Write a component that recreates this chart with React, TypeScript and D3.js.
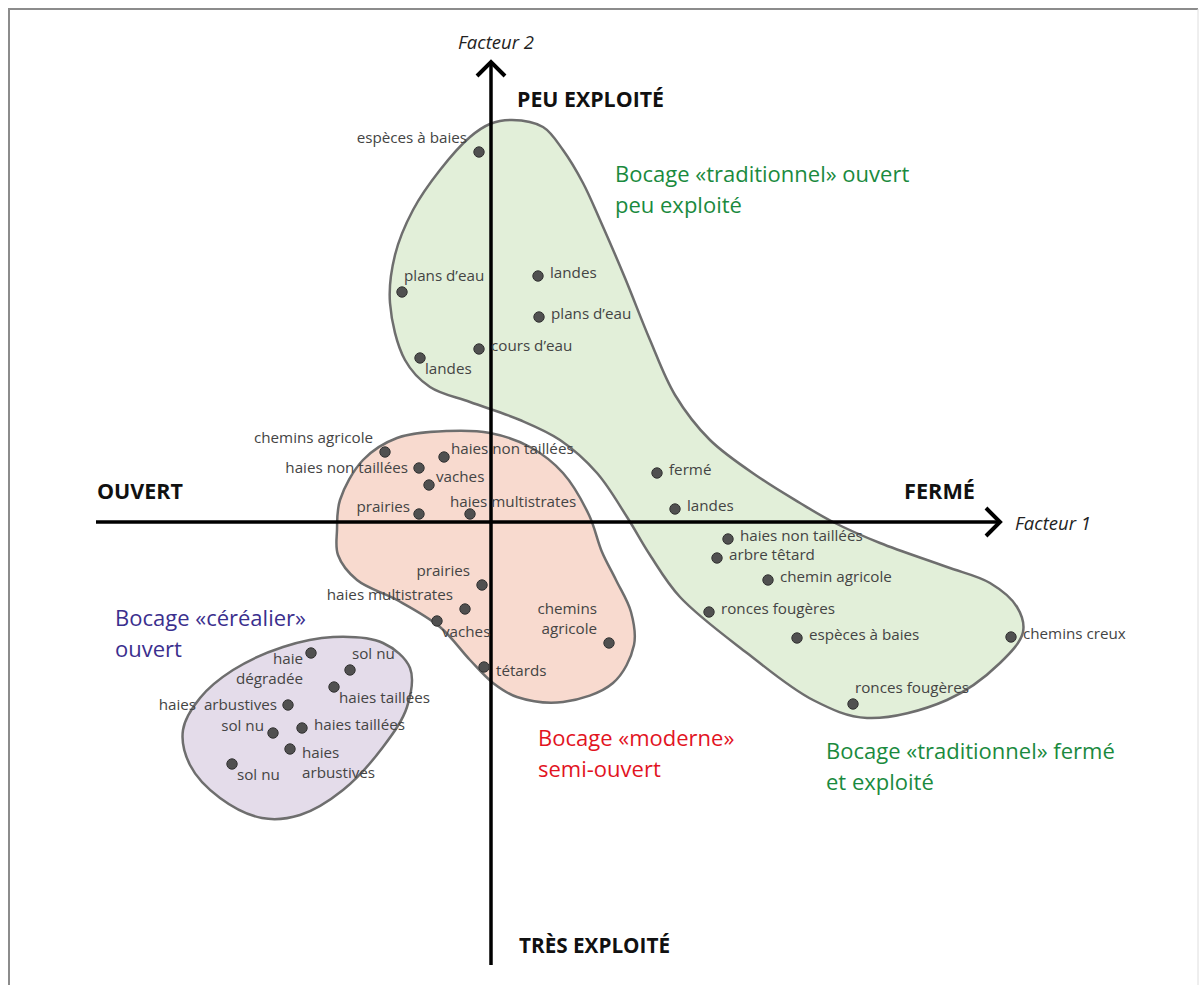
import React from "react";
import * as d3 from "d3";

const width = 1199;
const height = 985;

// factor scores (Facteur 1, Facteur 2) and label placement code
const greenPoints: [string, number, number, string][] = [
  ["espèces à baies", -0.12, 3.7, "tl"],
  ["plans d’eau", -0.89, 2.3, "tr"],
  ["landes", 0.47, 2.46, "r"],
  ["plans d’eau", 0.48, 2.05, "r"],
  ["cours d’eau", -0.12, 1.73, "r"],
  ["landes", -0.71, 1.64, "br"],
  ["fermé", 1.66, 0.49, "r"],
  ["landes", 1.84, 0.13, "r"],
  ["haies non taillées", 2.37, -0.17, "r"],
  ["arbre têtard", 2.26, -0.36, "r"],
  ["chemin agricole", 2.77, -0.58, "r"],
  ["ronces fougères", 2.18, -0.9, "r"],
  ["espèces à baies", 3.06, -1.16, "r"],
  ["chemins creux", 5.2, -1.15, "r"],
  ["ronces fougères", 3.62, -1.82, "tr"],
];

const pinkPoints: [string, number, number, string][] = [
  ["chemins agricole", -1.06, 0.7, "tl"],
  ["haies non taillées", -0.47, 0.65, "ur"],
  ["haies non taillées", -0.72, 0.54, "l"],
  ["vaches", -0.62, 0.37, "ur"],
  ["prairies", -0.72, 0.08, "ul"],
  ["haies multistrates", -0.21, 0.08, "tm"],
  ["prairies", -0.09, -0.63, "tl"],
  ["haies multistrates", -0.26, -0.87, "tl"],
  ["vaches", -0.54, -0.99, "br"],
  ["tétards", -0.07, -1.45, "rb"],
  ["chemins\nagricole", 1.18, -1.21, "tl"],
];

const purplePoints: [string, number, number, string][] = [
  ["haie\ndégradée", -1.8, -1.31, "bl"],
  ["sol nu", -1.41, -1.48, "tr"],
  ["haies taillées", -1.57, -1.65, "br"],
  ["haies  arbustives", -2.03, -1.83, "l"],
  ["sol nu", -2.18, -2.11, "ul"],
  ["haies taillées", -1.89, -2.06, "r"],
  ["haies\narbustives", -2.01, -2.27, "rb"],
  ["sol nu", -2.59, -2.42, "br"],
];

// group outlines
const greenOutline: [number, number][] = [
  [0.21, 4.02], [0.52, 3.95], [0.72, 3.72], [0.92, 3.39], [1.09, 3.02],
  [1.34, 2.44], [1.59, 1.82], [1.84, 1.27], [2.19, 0.82], [2.69, 0.44],
  [3.09, 0.19], [3.42, 0.0], [3.89, -0.21], [4.56, -0.45], [4.99, -0.61],
  [5.26, -0.85], [5.32, -1.1], [5.09, -1.41], [4.56, -1.78], [3.76, -1.96],
  [3.22, -1.78], [2.56, -1.31], [1.89, -0.75], [1.59, -0.33], [1.36, 0.05],
  [1.06, 0.49], [0.69, 0.82], [0.29, 1.02], [-0.21, 1.2], [-0.61, 1.35],
  [-0.86, 1.62], [-1.01, 2.19], [-0.96, 2.67], [-0.78, 3.12], [-0.51, 3.52],
  [-0.21, 3.85], [-0.01, 3.98],
];

const pinkOutline: [number, number][] = [
  [-1.54, -0.08], [-1.51, 0.22], [-1.28, 0.62], [-0.94, 0.84], [-0.44, 0.91],
  [-0.01, 0.89], [0.39, 0.75], [0.72, 0.49], [0.98, 0.07], [1.11, -0.3],
  [1.25, -0.58], [1.4, -0.9], [1.43, -1.23], [1.22, -1.61], [0.72, -1.8],
  [0.26, -1.75], [0.02, -1.61], [-0.21, -1.38], [-0.51, -1.05], [-0.94, -0.78],
  [-1.34, -0.58], [-1.53, -0.33],
];

const purpleOutline: [number, number][] = [
  [-3.08, -2.08], [-2.91, -1.76], [-2.58, -1.48], [-2.08, -1.25], [-1.58, -1.15],
  [-1.08, -1.21], [-0.81, -1.46], [-0.84, -1.85], [-1.08, -2.25], [-1.48, -2.68],
  [-1.91, -2.93], [-2.29, -2.96], [-2.71, -2.76], [-3.01, -2.43],
];

const groupTitles: [string, number, number, string][] = [
  ["Bocage «traditionnel» ouvert\npeu exploité", 1.24, 3.48, "#1a8a3e"],
  ["Bocage «traditionnel» fermé\net exploité", 3.35, -2.29, "#1a8a3e"],
  ["Bocage «céréalier»\nouvert", -3.76, -0.96, "#3b2f8e"],
  ["Bocage «moderne»\nsemi-ouvert", 0.47, -2.16, "#e2141f"],
];

const xExtent = [-3.95, 5.09];
const yExtent = [-4.43, 4.6];

const x = d3.scaleLinear().domain([-4, 4]).range([91, 891]);
const y = d3.scaleLinear().domain([-4, 4]).range([922, 122]);

const placement: Record<string, [number, number, string]> = {
  r: [12, -3, "start"],
  rb: [12, 4, "start"],
  l: [-11, 0, "end"],
  ul: [-9, -7, "end"],
  ur: [7, -8, "start"],
  tl: [-12, -14, "end"],
  tr: [2, -16, "start"],
  tm: [-20, -12, "start"],
  br: [5, 11, "start"],
  bl: [-8, 6, "end"],
};

const blob = d3
  .line<[number, number]>()
  .x((d) => x(d[0]))
  .y((d) => y(d[1]))
  .curve(d3.curveCatmullRomClosed.alpha(0.5));

const labelFont = "'Open Sans', sans-serif";
const lineH = 20;

const Points = ({ data }: { data: [string, number, number, string][] }) => (
  <g>
    {data.map(([name, fx, fy, pos], i) => {
      const [dx, dy, anchor] = placement[pos];
      const lines = name.split("\n");
      const up = pos.startsWith("t") ? (lines.length - 1) * lineH : 0;
      return (
        <g key={i}>
          <circle cx={x(fx)} cy={y(fy)} r={5.2} fill="#505050" stroke="#333" strokeWidth={1} />
          {lines.map((l, j) => (
            <text
              key={j}
              x={x(fx) + dx}
              y={y(fy) + dy - up + j * lineH}
              dy="0.35em"
              textAnchor={anchor}
              fontSize={15.2}
              fill="#444"
              style={{ whiteSpace: "pre" }}
            >
              {l}
            </text>
          ))}
        </g>
      );
    })}
  </g>
);

const App = () => {
  const x0 = x(0);
  const y0 = y(0);
  const xEnd = x(xExtent[1]);
  const yEnd = y(yExtent[1]);
  return (
    <svg
      width={width}
      height={height}
      style={{ position: "absolute", left: 0, top: 0, fontFamily: labelFont, background: "#fff" }}
    >
      <line x1={8} y1={9} x2={1198} y2={9} stroke="#8c8c8c" strokeWidth={2} />
      <line x1={9} y1={8} x2={9} y2={985} stroke="#8c8c8c" strokeWidth={2} />
      <line x1={1198} y1={9} x2={1198} y2={985} stroke="#dedede" strokeWidth={1} />

      <path d={blob(greenOutline) || ""} fill="#e2efd9" stroke="#6e6e6e" strokeWidth={2.5} />
      <path d={blob(pinkOutline) || ""} fill="#f8dacf" stroke="#6e6e6e" strokeWidth={2.5} />
      <path d={blob(purpleOutline) || ""} fill="#e4dcea" stroke="#6e6e6e" strokeWidth={2.5} />

      {/* axes */}
      <line x1={x(xExtent[0])} y1={y0} x2={xEnd - 2} y2={y0} stroke="#000" strokeWidth={3.5} />
      <line x1={x0} y1={y(yExtent[0])} x2={x0} y2={yEnd + 2} stroke="#000" strokeWidth={3.5} />
      <path
        d={`M${xEnd - 14},${y0 - 14} L${xEnd},${y0} L${xEnd - 14},${y0 + 14}`}
        fill="none"
        stroke="#000"
        strokeWidth={4}
      />
      <path
        d={`M${x0 - 14},${yEnd + 14} L${x0},${yEnd} L${x0 + 14},${yEnd + 14}`}
        fill="none"
        stroke="#000"
        strokeWidth={4}
      />

      <g fontWeight="bold" fontSize={21} fill="#111">
        <text x={x0 + 26} y={y(4.22)} dy="0.35em" textLength={147} lengthAdjust="spacingAndGlyphs">PEU EXPLOITÉ</text>
        <text x={x0 + 28} y={y(-4.24)} dy="0.35em" textLength={151} lengthAdjust="spacingAndGlyphs">TRÈS EXPLOITÉ</text>
        <text x={x(-3.94)} y={y(0.3)} dy="0.35em" textLength={86} lengthAdjust="spacingAndGlyphs">OUVERT</text>
        <text x={x(4.13)} y={y(0.3)} dy="0.35em" textLength={71} lengthAdjust="spacingAndGlyphs">FERMÉ</text>
      </g>
      <g fontStyle="italic" fontSize={18.5} fill="#222">
        <text x={x0 - 33} y={y(4.79)} dy="0.35em">Facteur 2</text>
        <text x={xEnd + 15} y={y0 + 2} dy="0.35em">Facteur 1</text>
      </g>

      <Points data={greenPoints} />
      <Points data={pinkPoints} />
      <Points data={purplePoints} />

      {groupTitles.map(([t, fx, fy, c], i) => (
        <text key={i} x={x(fx)} y={y(fy)} fontSize={22} fill={c}>
          {t.split("\n").map((l, j) => (
            <tspan key={j} x={x(fx)} dy={j === 0 ? "0.35em" : 31}>
              {l}
            </tspan>
          ))}
        </text>
      ))}
    </svg>
  );
};

export default App;
